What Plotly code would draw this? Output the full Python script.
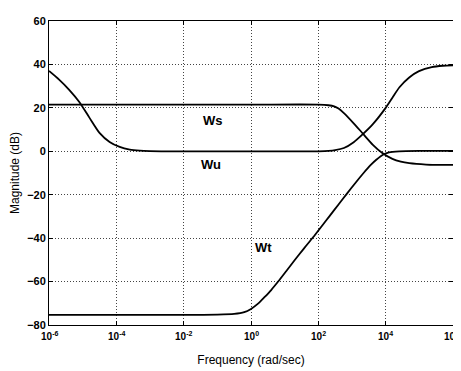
import plotly.graph_objects as go

# Weighting functions (log10 frequency, magnitude dB)
ws_logx = [-6, -3, 0, 2.0, 2.3, 2.47, 2.6, 2.76, 3.05, 3.33, 3.62, 3.9, 4.2, 4.45, 4.7, 5.2, 6]
ws_db = [21.5, 21.5, 21.5, 21.5, 21.2, 20.7, 19.7, 17.6, 12.9, 8, 3, -0.8, -3.5, -4.8, -5.5, -6.1, -6.3]

wu_logx = [-6, -5.7, -5.4, -5.1, -4.8, -4.5, -4.2, -3.9, -3.6, -3.3, -3, -2.5, 0,
           2.0, 2.3, 2.5, 2.76, 3.05, 3.33, 3.62, 4.0, 4.2, 4.41, 4.7, 4.99, 5.37, 5.7, 6]
wu_db = [37, 33, 28.3, 22.7, 15.5, 8.5, 4.3, 2.0, 0.8, 0.3, 0.1, 0, 0,
         0, 0.15, 0.5, 1.5, 4.2, 8, 12.5, 20, 24.7, 29.5, 34, 36.9, 38.8, 39.4, 39.6]

wt_logx = [-6, -4, -2, -1, -0.5, -0.2, 0, 0.2, 0.4, 0.6, 0.8, 1.05, 1.3, 1.57, 1.85, 2.1, 2.35,
           2.6, 2.85, 3.1, 3.35, 3.55, 3.73, 3.92, 4.1, 4.4, 5, 6]
wt_db = [-75.3, -75.3, -75.3, -75.2, -74.9, -74.1, -72.6, -70.3, -67.2, -63.9, -60.1, -55.1,
         -50.1, -44.8, -39.5, -34.5, -29.5, -24.5, -19.5, -14.6, -9.9, -6.4, -3.8, -1.6,
         -0.5, 0, 0.2, 0.2]

x_tick_exp = [-6, -4, -2, 0, 2, 4, 6]
x_tick_text = ["10<sup>-6</sup>", "10<sup>-4</sup>", "10<sup>-2</sup>", "10<sup>0</sup>",
               "10<sup>2</sup>", "10<sup>4</sup>", "10<sup>6</sup>"]
y_ticks = [-80, -60, -40, -20, 0, 20, 40, 60]

labels = ["Ws", "Wu", "Wt"]
label_logx = [-1.12, -1.18, 0.38]
label_db = [14.2, -6.2, -44.4]

FONT = "Liberation Sans"

fig = go.Figure()
for lx, db in [(ws_logx, ws_db), (wu_logx, wu_db), (wt_logx, wt_db)]:
    fig.add_trace(go.Scatter(
        x=[10 ** v for v in lx], y=db, mode="lines",
        line=dict(color="black", width=1.8, shape="spline", smoothing=0.7),
        showlegend=False, hoverinfo="skip"))

for t, lx, db in zip(labels, label_logx, label_db):
    fig.add_annotation(x=lx, y=db, text=t, showarrow=False,
                       font=dict(family=FONT, size=13, color="black", weight="bold"))

# x tick labels as annotations so the last one stays inside the page
last = len(x_tick_exp) - 1
for i, (e, t) in enumerate(zip(x_tick_exp, x_tick_text)):
    fig.add_annotation(x=e, xref="x", y=0, yref="paper", yanchor="top", yshift=-3,
                       xanchor="center", xshift=(-2 if i == last else 0),
                       text=t, showarrow=False,
                       font=dict(family=FONT, size=10, color="black", weight="bold"))

axis_common = dict(showline=True, linecolor="black", linewidth=1, mirror="allticks",
                   ticks="inside", ticklen=4, tickcolor="black",
                   showgrid=True, gridcolor="#444", gridwidth=1, griddash="1px,2px",
                   zeroline=False)

fig.update_xaxes(type="log", range=[-6, 6], tickvals=[10 ** e for e in x_tick_exp],
                 ticktext=x_tick_text, showticklabels=False,
                 title=dict(text="Frequency (rad/sec)", standoff=30,
                            font=dict(family=FONT, size=12, color="black")),
                 **axis_common)
fig.update_yaxes(range=[-80, 60], tickvals=y_ticks, ticklabeloverflow="allow",
                 tickfont=dict(family=FONT, size=11, color="black", weight="bold"),
                 title=dict(text="Magnitude (dB)", standoff=4,
                            font=dict(family=FONT, size=12, color="black")),
                 **axis_common)

# page body has an 8px default margin, so the figure is sized/offset to compensate
fig.update_layout(width=453, height=363, margin=dict(l=38, r=8, t=7, b=46),
                  paper_bgcolor="white", plot_bgcolor="white")

fig.write_html("out.html")
